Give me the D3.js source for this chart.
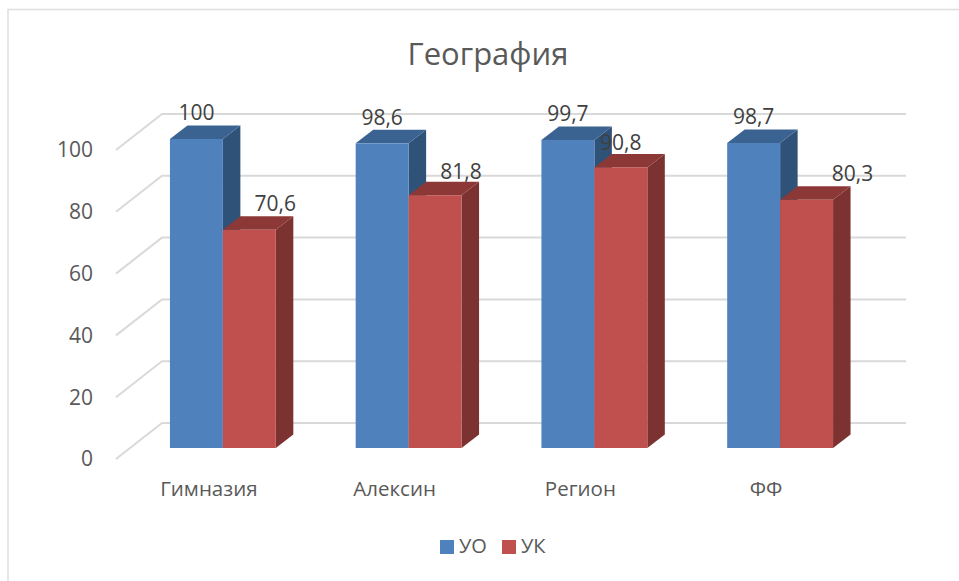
<!DOCTYPE html>
<html>
<head>
<meta charset="utf-8">
<script src="https://cdnjs.cloudflare.com/ajax/libs/d3/7.8.5/d3.min.js"></script>
<style>
body { margin: 0; background: #fff; }
text { font-family: "Open Sans", sans-serif; }
</style>
</head>
<body>
<script>
var categories = ['Гимназия', 'Алексин', 'Регион', 'ФФ'];
var seriesNames = ['УО', 'УК'];
var uo = [100, 98.6, 99.7, 98.7];
var uk = [70.6, 81.8, 90.8, 80.3];
var yTicks = [0, 20, 40, 60, 80, 100];

var canvasWidth = 959;
var canvasHeight = 581;

var colors = {
    'УО': { front: '#4f81bd', top: '#3b6392', side: '#2f5279' },
    'УК': { front: '#c0504d', top: '#8c3836', side: '#7c3230' }
};

// hand placed data labels in the original, moved from the default spot
var labelShift = { 'УО': [0, 0, 0, 0], 'УК': [26, 26, 0, 46] };
var labelDrop = { 'УО': [0, 0, 0, 0], 'УК': [0, 2, 1, 0] };

var svg = d3
    .select('body')
    .append('svg')
    .attr('width', canvasWidth)
    .attr('height', canvasHeight)
    .style('display', 'block');

// chart frame, only top and left show
svg.append('path')
    .attr('d', 'M8,581V9.5H959')
    .attr('fill', 'none')
    .attr('stroke', '#dedede')
    .attr('stroke-width', 1.5);

svg.append('text')
    .attr('x', 488)
    .attr('y', 65)
    .attr('text-anchor', 'middle')
    .attr('font-size', '31px')
    .attr('fill', '#595959')
    .text('География');

// front edge of the floor
var yScale = d3.scaleLinear().domain([0, 100]).range([459, 150]);
var xScale = d3
    .scaleBand()
    .domain(categories)
    .range([116, 859])
    .paddingInner(0.43)
    .paddingOuter(0.215);
var xInner = d3.scaleBand().domain(seriesNames).range([0, xScale.bandwidth()]);

var wallDx = 46, wallDy = -36;   // floor depth
var barInsetX = 14, barInsetY = -11;   // bar front sits this far into the floor
var barDx = 17.5, barDy = -13.5;   // bar depth

var grid = svg.append('g');
yTicks.forEach(function (t) {
    grid.append('path')
        .attr('d', 'M116,' + yScale(t) + 'l' + wallDx + ',' + wallDy + 'H906')
        .attr('fill', 'none')
        .attr('stroke', '#d9d9d9')
        .attr('stroke-width', 2);
});

svg.append('g')
    .selectAll('text')
    .data(yTicks)
    .enter()
    .append('text')
    .attr('x', 93)
    .attr('y', function (d) { return yScale(d); })
    .attr('dy', '0.35em')
    .attr('text-anchor', 'end')
    .attr('font-size', '21px')
    .attr('fill', '#595959')
    .text(function (d) { return d; });

function drawBar(g, cat, name, value) {
    var c = colors[name];
    var x0 = xScale(cat) + xInner(name) + barInsetX;
    var w = xInner.bandwidth();
    var y0 = yScale(0) + barInsetY;
    var yt = yScale(value) + barInsetY;

    g.append('path')
        .attr('d', 'M' + (x0 + w) + ',' + yt + 'l' + barDx + ',' + barDy + 'V' + (y0 + barDy) + 'l' + (-barDx) + ',' + (-barDy) + 'Z')
        .attr('fill', c.side);
    g.append('path')
        .attr('d', 'M' + x0 + ',' + yt + 'l' + barDx + ',' + barDy + 'h' + w + 'l' + (-barDx) + ',' + (-barDy) + 'Z')
        .attr('fill', c.top);
    g.append('rect')
        .attr('x', x0)
        .attr('y', yt)
        .attr('width', w)
        .attr('height', y0 - yt)
        .attr('fill', c.front);
}

var bars = svg.append('g');
categories.forEach(function (cat, i) {
    drawBar(bars, cat, 'УО', uo[i]);
    drawBar(bars, cat, 'УК', uk[i]);
});

var fmt = function (v) { return String(v).replace('.', ','); };
var labels = svg.append('g');
[uo, uk].forEach(function (values, s) {
    var name = seriesNames[s];
    values.forEach(function (v, i) {
        labels.append('text')
            .attr('x', xScale(categories[i]) + xInner(name) + barInsetX + xInner.bandwidth() / 2 + labelShift[name][i])
            .attr('y', yScale(v) + barInsetY - 26 + labelDrop[name][i])
            .attr('dy', '0.35em')
            .attr('text-anchor', 'middle')
            .attr('font-size', '21px')
            .attr('fill', '#404040')
            .text(fmt(v));
    });
});

svg.append('g')
    .selectAll('text')
    .data(categories)
    .enter()
    .append('text')
    .attr('x', function (d) { return xScale(d) + xScale.bandwidth() / 2; })
    .attr('y', 489)
    .attr('dy', '0.35em')
    .attr('text-anchor', 'middle')
    .attr('font-size', '20.5px')
    .attr('fill', '#595959')
    .text(function (d) { return d; });

// legend
var legendX = { 'УО': 440, 'УК': 502 };
var legend = svg.append('g');
seriesNames.forEach(function (name) {
    legend.append('rect')
        .attr('x', legendX[name])
        .attr('y', 540)
        .attr('width', 14)
        .attr('height', 14)
        .attr('fill', colors[name].front);
    legend.append('text')
        .attr('x', legendX[name] + 19)
        .attr('y', 546)
        .attr('dy', '0.35em')
        .attr('font-size', '20px')
        .attr('fill', '#595959')
        .text(name);
});
</script>
</body>
</html>
